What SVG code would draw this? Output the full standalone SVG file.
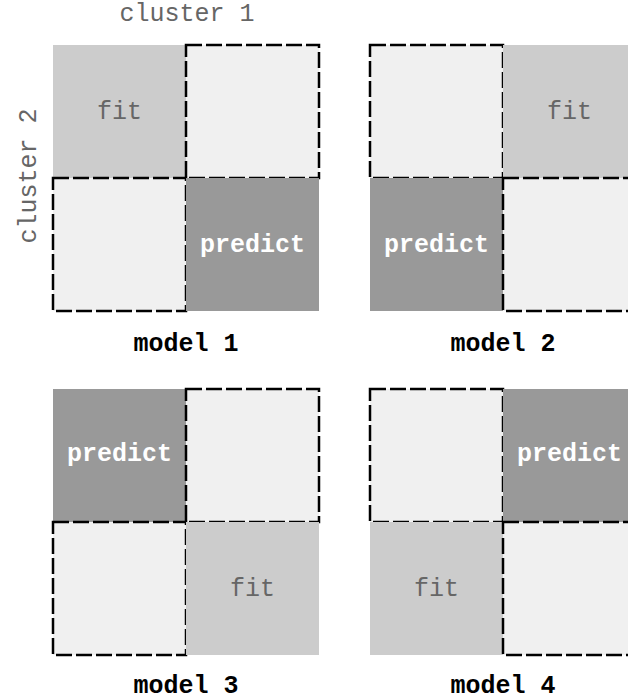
<svg xmlns="http://www.w3.org/2000/svg" width="628" height="700" viewBox="0 0 628 700">
<style>
.light{fill:#f0f0f0;stroke:#000;stroke-width:2.5;stroke-dasharray:16,4}
.fit{fill:#cccccc}
.pred{fill:#999999}
text{font-family:"Liberation Mono","Courier New",monospace;font-size:25px;text-anchor:middle}
.tfit{fill:#666}
.tpred{fill:#fff;font-weight:bold}
.tmodel{fill:#000;font-weight:bold}
.taxis{fill:#666}
</style>
<rect width="628" height="700" fill="#fff"/>
<text class="taxis" x="187" y="21">cluster 1</text>
<text class="taxis" transform="translate(36,176) rotate(-90)" x="0" y="0">cluster 2</text>
<g id="model1">
<rect class="fit" x="53" y="45" width="133" height="133"/>
<rect class="light" x="186" y="45" width="133" height="133"/>
<rect class="light" x="53" y="178" width="133" height="133"/>
<rect class="pred" x="186" y="178" width="133" height="133"/>
<text class="tfit" x="119.5" y="119">fit</text>
<text class="tpred" x="252.5" y="252">predict</text>
<text class="tmodel" x="186" y="351">model 1</text>
</g>
<g id="model2">
<rect class="light" x="370" y="45" width="133" height="133"/>
<rect class="fit" x="503" y="45" width="133" height="133"/>
<rect class="pred" x="370" y="178" width="133" height="133"/>
<rect class="light" x="503" y="178" width="133" height="133"/>
<text class="tfit" x="569.5" y="119">fit</text>
<text class="tpred" x="436.5" y="252">predict</text>
<text class="tmodel" x="503" y="351">model 2</text>
</g>
<g id="model3">
<rect class="pred" x="53" y="389" width="133" height="133"/>
<rect class="light" x="186" y="389" width="133" height="133"/>
<rect class="light" x="53" y="522" width="133" height="133"/>
<rect class="fit" x="186" y="522" width="133" height="133"/>
<text class="tpred" x="119.5" y="461">predict</text>
<text class="tfit" x="252.5" y="596">fit</text>
<text class="tmodel" x="186" y="693">model 3</text>
</g>
<g id="model4">
<rect class="light" x="370" y="389" width="133" height="133"/>
<rect class="pred" x="503" y="389" width="133" height="133"/>
<rect class="fit" x="370" y="522" width="133" height="133"/>
<rect class="light" x="503" y="522" width="133" height="133"/>
<text class="tpred" x="569.5" y="461">predict</text>
<text class="tfit" x="436.5" y="596">fit</text>
<text class="tmodel" x="503" y="693">model 4</text>
</g>
<g id="connectors"/>
</svg>
